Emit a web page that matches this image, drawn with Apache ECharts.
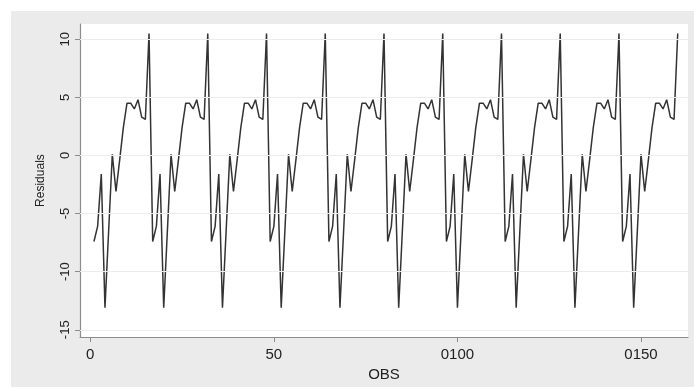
<!DOCTYPE html>
<html>
<head>
<meta charset="utf-8">
<script src="https://cdn.jsdelivr.net/npm/echarts@6/dist/echarts.min.js"></script>
<style>
html,body{margin:0;padding:0;background:#ffffff;}
#chart{width:694px;height:387px;}
</style>
</head>
<body>
<div id="chart"></div>
<script>
var obs = [];
for (var i = 1; i <= 160; i++) obs.push(i);
var residuals = [
  -7.4,-6.1,-1.6,-13.1,-6.5,0.1,-3.1,-0.4,2.4,4.5,4.5,4.0,4.8,3.3,3.1,10.5,
  -7.4,-6.1,-1.6,-13.1,-6.5,0.1,-3.1,-0.4,2.4,4.5,4.5,4.0,4.8,3.3,3.1,10.5,
  -7.4,-6.1,-1.6,-13.1,-6.5,0.1,-3.1,-0.4,2.4,4.5,4.5,4.0,4.8,3.3,3.1,10.5,
  -7.4,-6.1,-1.6,-13.1,-6.5,0.1,-3.1,-0.4,2.4,4.5,4.5,4.0,4.8,3.3,3.1,10.5,
  -7.4,-6.1,-1.6,-13.1,-6.5,0.1,-3.1,-0.4,2.4,4.5,4.5,4.0,4.8,3.3,3.1,10.5,
  -7.4,-6.1,-1.6,-13.1,-6.5,0.1,-3.1,-0.4,2.4,4.5,4.5,4.0,4.8,3.3,3.1,10.5,
  -7.4,-6.1,-1.6,-13.1,-6.5,0.1,-3.1,-0.4,2.4,4.5,4.5,4.0,4.8,3.3,3.1,10.5,
  -7.4,-6.1,-1.6,-13.1,-6.5,0.1,-3.1,-0.4,2.4,4.5,4.5,4.0,4.8,3.3,3.1,10.5,
  -7.4,-6.1,-1.6,-13.1,-6.5,0.1,-3.1,-0.4,2.4,4.5,4.5,4.0,4.8,3.3,3.1,10.5,
  -7.4,-6.1,-1.6,-13.1,-6.5,0.1,-3.1,-0.4,2.4,4.5,4.5,4.0,4.8,3.3,3.1,10.5
];
var xTicks = [0, 50, 100, 150];
var xTickLabels = ["0", "50", "0100", "0150"];
var yTicks = [-15, -10, -5, 0, 5, 10];
var yTickLabels = ["-15", "-10", "-5", "0", "5", "10"];

var points = obs.map(function (x, i) { return [x, residuals[i]]; });
var font = "'Liberation Sans', Arial, sans-serif";

var chart = echarts.init(document.getElementById('chart'), null, {renderer: 'canvas'});
chart.setOption({
  animation: false,
  backgroundColor: '#ffffff',
  graphic: [{
    type: 'rect', z: -10, silent: true,
    shape: {x: 11, y: 11, width: 683, height: 376},
    style: {fill: '#ebebeb'}
  }],
  grid: {
    left: 80, top: 24, right: 6, bottom: 44,
    show: true, backgroundColor: '#ffffff', borderWidth: 0
  },
  xAxis: {
    type: 'value', min: -2.8, max: 162.8,
    name: 'OBS', nameLocation: 'middle', nameGap: 24,
    nameTextStyle: {fontFamily: font, fontSize: 15, color: '#222'},
    axisLine: {show: true, onZero: false, lineStyle: {color: '#8c8c8c', width: 1.2}},
    axisTick: {show: true, length: 5, customValues: xTicks, lineStyle: {color: '#8c8c8c'}},
    axisLabel: {
      customValues: xTicks, margin: 10,
      fontFamily: font, fontSize: 15, color: '#222',
      formatter: function (v) { var k = xTicks.indexOf(v); return k >= 0 ? xTickLabels[k] : ''; }
    },
    splitLine: {show: false}
  },
  yAxis: {
    type: 'value', min: -15.63, max: 11.31,
    name: 'Residuals', nameLocation: 'middle', nameGap: 33, nameRotate: 90,
    nameTextStyle: {fontFamily: font, fontSize: 12, color: '#222'},
    axisLine: {show: true, onZero: false, lineStyle: {color: '#8c8c8c', width: 1.2}},
    axisTick: {show: true, length: 5, customValues: yTicks, lineStyle: {color: '#8c8c8c'}},
    axisLabel: {
      customValues: yTicks, rotate: 90, margin: 8,
      fontFamily: font, fontSize: 13, color: '#222',
      formatter: function (v) { var k = yTicks.indexOf(v); return k >= 0 ? yTickLabels[k] : ''; }
    },
    splitLine: {show: false}
  },
  series: [{
    type: 'line',
    data: points,
    symbol: 'none',
    lineStyle: {color: '#333333', width: 1.5},
    markLine: {
      silent: true, symbol: 'none', label: {show: false},
      lineStyle: {color: '#ececec', width: 1, type: 'solid'},
      data: yTicks.map(function (v) { return {yAxis: v}; })
    }
  }]
});
</script>
</body>
</html>
